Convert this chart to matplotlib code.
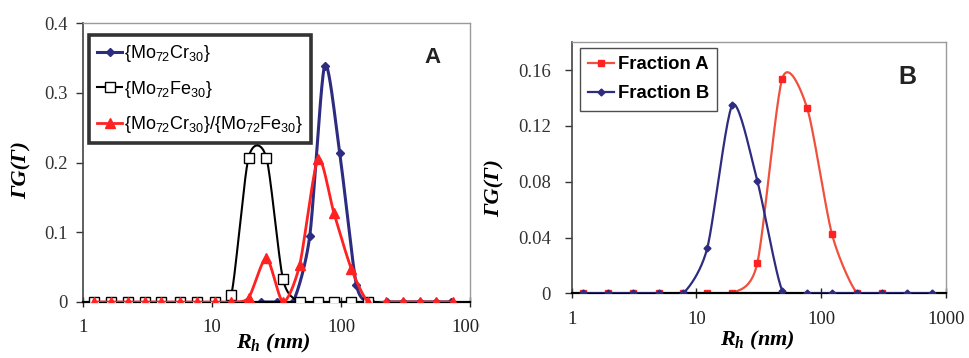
import numpy as np
import matplotlib
matplotlib.use("Agg")
import matplotlib.pyplot as plt
from matplotlib.ticker import NullLocator
from matplotlib.transforms import Bbox, TransformedBbox

plt.rcParams['font.family'] = ['Liberation Serif', 'DejaVu Serif']
plt.rcParams['mathtext.fontset'] = 'custom'
plt.rcParams['mathtext.rm'] = 'Liberation Sans'
plt.rcParams['mathtext.it'] = 'Liberation Serif:italic:bold'
plt.rcParams['mathtext.bf'] = 'Liberation Serif:bold'
plt.rcParams['mathtext.default'] = 'rm'

SERIF = 'Liberation Serif'
SANS = 'Liberation Sans'

# ---- data, panel A
xa_grid = [1.22, 1.66, 2.23, 3.01, 4.05, 5.61, 7.69, 10.5, 14.1, 19.2, 26.4,
           35.5, 47.8, 66.3, 88.3, 120, 162, 224, 302, 407, 548, 738]
x_cr = [24.1, 32.1, 42.5, 57.2, 74.7, 97.7, 131.5, 170, 229, 302, 407, 548, 716]
y_cr = [0, 0, 0, 0.094, 0.339, 0.214, 0.025, 0, 0, 0, 0, 0, 0]
x_fe = xa_grid[:17]
y_fe = [0, 0, 0, 0, 0, 0, 0, 0, 0.0096, 0.207, 0.207, 0.0325, 0, 0, 0, 0, 0]
x_mix = xa_grid
y_mix = [0, 0, 0, 0, 0, 0, 0, 0, 0, 0.006, 0.063, 0, 0.053, 0.205, 0.127,
         0.048, 0, 0, 0, 0, 0, 0]

# ---- data, panel B
xb_grid = [1.24, 1.96, 3.11, 4.99, 7.82, 12.2, 19.4, 30.7, 48.7, 77.2, 122,
           194, 307, 487, 772]
x_fa = xb_grid[:13]
y_fa = [0, 0, 0, 0, 0, 0, 0, 0.0214, 0.154, 0.1327, 0.0423, 0, 0]
x_fb = xb_grid
y_fb = [0, 0, 0, 0, 0, 0.0323, 0.135, 0.0808, 0.0019, 0, 0, 0, 0, 0, 0]

xticks = [1, 10, 100, 1000]
xtick_labels = ['1', '10', '100', '1000']
ya_ticks = [0, 0.1, 0.2, 0.3, 0.4]
ya_labels = ['0', '0.1', '0.2', '0.3', '0.4']
yb_ticks = [0, 0.04, 0.08, 0.12, 0.16]
yb_labels = ['0', '0.04', '0.08', '0.12', '0.16']

blue = '#2d2c80'
red = '#ff2222'


def smooth(x, y, n=24, k=8.0):
    # Excel-like smoothed line: cubic Bezier through the points in log-x space
    P = np.column_stack([np.log10(x), y])
    out = [P[0]]
    for i in range(len(P) - 1):
        p0 = P[i - 1] if i > 0 else P[i]
        p3 = P[i + 2] if i + 2 < len(P) else P[i + 1]
        c1 = P[i] + (P[i + 1] - p0) / k
        c2 = P[i + 1] - (p3 - P[i]) / k
        t = np.linspace(0, 1, n)[1:, None]
        seg = ((1 - t) ** 3 * P[i] + 3 * (1 - t) ** 2 * t * c1
               + 3 * (1 - t) * t ** 2 * c2 + t ** 3 * P[i + 1])
        out.extend(seg)
    out = np.array(out)
    return 10 ** out[:, 0], out[:, 1]


def series(ax, x, y, color, lcolor, marker, ms, lw, label, mfc=None, z=2):
    sx, sy = smooth(x, y)
    ax.plot(sx, sy, color=lcolor, lw=lw, zorder=z)
    ax.plot(x, y, ls='none', marker=marker, ms=ms, color=color,
            mfc=mfc if mfc else color, mec=color, mew=1, zorder=z + 0.5)
    # proxy for the legend
    ax.plot([], [], color=lcolor, lw=lw, marker=marker, ms=ms,
            mfc=mfc if mfc else color, mec=color, label=label)


def style(ax, yticks, ylabels, ymax, fs, ypad):
    ax.set_xscale('log')
    ax.set_xlim(1, 1000)
    ax.set_ylim(0, ymax)
    ax.set_xticks(xticks)
    ax.set_xticklabels(xtick_labels, fontfamily=SERIF)
    ax.xaxis.set_minor_locator(NullLocator())
    ax.set_yticks(yticks)
    ax.set_yticklabels(ylabels, fontfamily=SERIF)
    ax.tick_params(axis='x', direction='inout', length=7, width=1,
                   labelsize=fs, pad=9, colors='#222222')
    ax.tick_params(axis='y', direction='out', length=5, width=1,
                   labelsize=fs, pad=ypad, colors='#333333')
    ax.spines['top'].set_color('#9a9a9a')
    ax.spines['right'].set_color('#9a9a9a')
    ax.spines['left'].set_color('#444444')
    ax.spines['left'].set_linewidth(1.2)
    ax.spines['bottom'].set_color('black')
    ax.spines['bottom'].set_linewidth(1.6)
    for s in ('top', 'right'):
        ax.spines[s].set_linewidth(1.0)


fig = plt.figure(figsize=(9.69, 3.58), dpi=100)

# ------- panel A
axA = fig.add_axes([83 / 969, 1 - 302 / 358, 387 / 969, 279 / 358])
series(axA, x_cr, y_cr, blue, blue, 'D', 4.5, 2.2, r'{Mo$_{72}$Cr$_{30}$}', z=2)
series(axA, x_fe, y_fe, 'black', 'black', 's', 6.5, 1.5,
       r'{Mo$_{72}$Fe$_{30}$}', mfc='white', z=3)
series(axA, x_mix, y_mix, red, red, '^', 6.5, 2.0,
       r'{Mo$_{72}$Cr$_{30}$}/{Mo$_{72}$Fe$_{30}$}', z=4)
style(axA, ya_ticks, ya_labels, 0.4, 13.5, 6)
legA = axA.legend(loc='upper left', bbox_to_anchor=(89 / 969, 1 - 35 / 358),
                  bbox_transform=fig.transFigure, frameon=True, fancybox=False,
                  prop={'family': SANS, 'size': 13},
                  handlelength=1.4, handletextpad=0.1, labelspacing=0.8,
                  borderpad=0.45, borderaxespad=0, markerscale=1.0)
legA.get_frame().set_edgecolor('black')
legA.get_frame().set_linewidth(2.6)
axA.text(0.902, 0.875, 'A', transform=axA.transAxes, ha='center', va='center',
         fontsize=16, fontweight='bold', family=SANS, color='#222222')
axA.text(-0.158, 0.473, 'ΓG(Γ)', transform=axA.transAxes, rotation=90,
         ha='center', va='center', fontsize=16, fontweight='bold', style='italic')
axA.text(0.491, -0.15, r'$\mathit{R_h}$ (nm)', transform=axA.transAxes,
         ha='center', va='center', fontsize=16, fontweight='bold', style='italic')

# the rightmost "1000" of panel A is cut off at the panel edge
clip = TransformedBbox(Bbox([[0, 0], [480 / 969, 1]]), fig.transFigure)
fig.canvas.draw()
for lab in axA.get_xticklabels():
    lab.set_clip_box(clip)
    lab.set_clip_on(True)

# ------- panel B
axB = fig.add_axes([571.7 / 969, 1 - 293.3 / 358, 374.3 / 969, 251 / 358])
series(axB, x_fa, y_fa, red, '#f0503c', 's', 5, 1.6, 'Fraction A', z=2)
series(axB, x_fb, y_fb, blue, blue, 'D', 3.5, 1.6, 'Fraction B', z=3)
style(axB, yb_ticks, yb_labels, 0.18, 13.5, 10)
legB = axB.legend(loc='upper left', bbox_to_anchor=(580 / 969, 1 - 48 / 358),
                  bbox_transform=fig.transFigure, frameon=True, fancybox=False,
                  prop={'family': SANS, 'size': 13.3, 'weight': 'bold'},
                  handlelength=1.4, handletextpad=0.2, labelspacing=0.65,
                  borderpad=0.45, borderaxespad=0)
legB.get_frame().set_edgecolor('#222222')
legB.get_frame().set_linewidth(1.0)
axB.text(0.896, 0.862, 'B', transform=axB.transAxes, ha='center', va='center',
         fontsize=18, fontweight='bold', family=SANS, color='#222222')
axB.text(-0.205, 0.42, 'ΓG(Γ)', transform=axB.transAxes, rotation=90,
         ha='center', va='center', fontsize=16, fontweight='bold', style='italic')
axB.text(0.495, -0.186, r'$\mathit{R_h}$ (nm)', transform=axB.transAxes,
         ha='center', va='center', fontsize=16, fontweight='bold', style='italic')

fig.savefig('out.png', dpi=100)
